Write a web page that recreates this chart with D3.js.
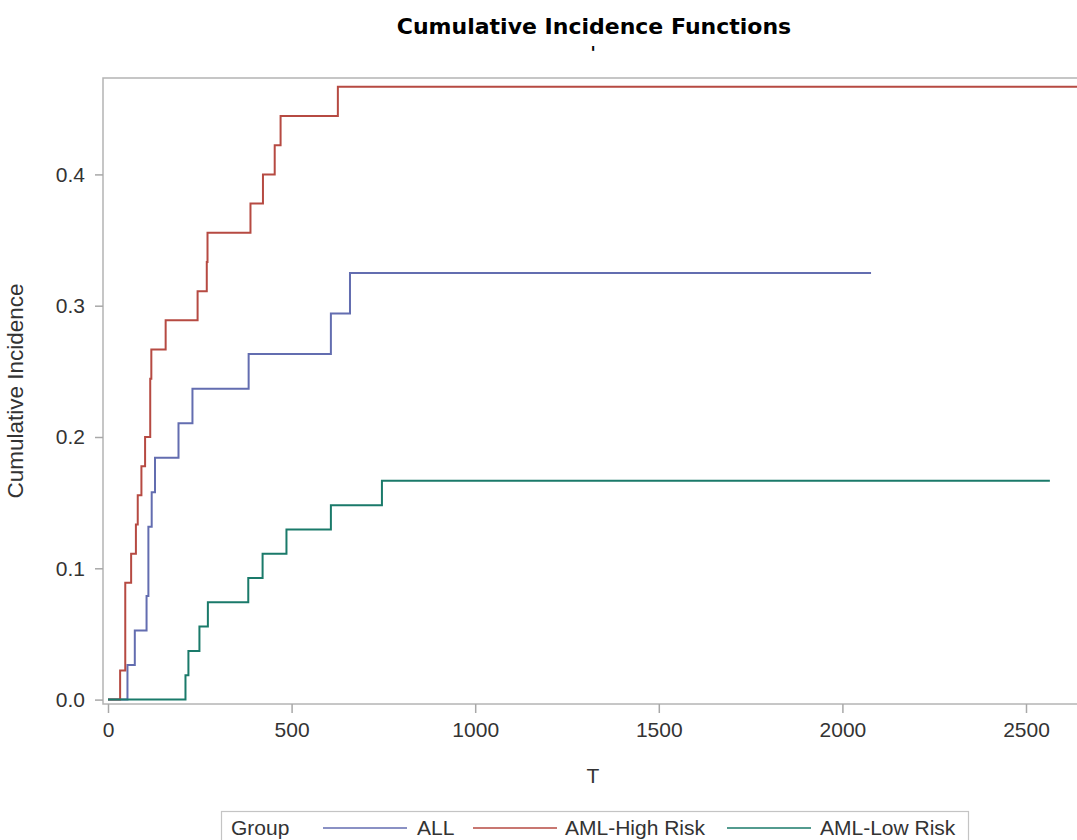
<!DOCTYPE html>
<html>
<head>
<meta charset="utf-8">
<script src="https://cdn.jsdelivr.net/npm/d3@7"></script>
<style>
  html, body { margin: 0; padding: 0; background: #fff; }
  svg { display: block; }
</style>
</head>
<body>
<svg id="chart" width="1077" height="840"></svg>
<script>
// ---- Data ----
const groups = ["ALL", "AML-High Risk", "AML-Low Risk"];

const allTimes = [0, 53, 73, 105, 110, 119, 128, 192, 230, 383, 607, 659, 2078];
const allCIF   = [0, 0.0263, 0.0526, 0.0789, 0.1316, 0.1579, 0.1842, 0.2105, 0.2368, 0.2632, 0.2940, 0.3250, 0.3250];

const highTimes = [0, 33, 47, 63, 76, 81, 91, 101, 115, 118, 157, 244, 269, 271, 388, 422, 454, 470, 626, 2700];
const highCIF   = [0, 0.0222, 0.0889, 0.1111, 0.1333, 0.1556, 0.1778, 0.2000, 0.2444, 0.2667, 0.2889, 0.3111, 0.3333, 0.3556, 0.3778, 0.4000, 0.4222, 0.4444, 0.4667, 0.4667];

const lowTimes = [0, 211, 219, 249, 272, 382, 421, 486, 607, 746, 2565];
const lowCIF   = [0, 0.0185, 0.0370, 0.0556, 0.0741, 0.0926, 0.1111, 0.1296, 0.1481, 0.1667, 0.1667];

const xTicks = [0, 500, 1000, 1500, 2000, 2500];
const yTicks = [0, 0.1, 0.2, 0.3, 0.4];

const colors = ["#636db0", "#b64a42", "#1a7a6a"];

// ---- Layout ----
const svg = d3.select("#chart");
const frame = { left: 103, top: 78, right: 1090, bottom: 704 };

const x = d3.scaleLinear().domain([0, 2500]).range([108, 1026]);
const y = d3.scaleLinear().domain([0, 0.4]).range([699.6, 174.4]);

const textFont = "'Liberation Sans', Arial, sans-serif";

// Title
svg.append("text")
  .attr("x", 594).attr("y", 34)
  .attr("text-anchor", "middle")
  .style("font-family", "'DejaVu Sans', Verdana, sans-serif")
  .style("font-weight", "bold")
  .style("font-size", "22px")
  .attr("fill", "#000")
  .text("Cumulative Incidence Functions");
svg.append("text")
  .attr("x", 593).attr("y", 59)
  .attr("text-anchor", "middle")
  .style("font-family", "'DejaVu Sans', Verdana, sans-serif")
  .style("font-weight", "bold")
  .style("font-size", "17px")
  .attr("fill", "#000")
  .text("'");

// Clip
svg.append("defs").append("clipPath").attr("id", "plotclip")
  .append("rect")
  .attr("x", frame.left).attr("y", frame.top)
  .attr("width", frame.right - frame.left).attr("height", frame.bottom - frame.top);

// Frame
svg.append("rect")
  .attr("x", frame.left).attr("y", frame.top)
  .attr("width", frame.right - frame.left).attr("height", frame.bottom - frame.top)
  .attr("fill", "none").attr("stroke", "#b4b4b4").attr("stroke-width", 1.5);

// Axes
const yAxis = d3.axisLeft(y).tickValues(yTicks).tickFormat(d3.format(".1f")).tickSize(8).tickPadding(10);
const gy = svg.append("g").attr("transform", `translate(${frame.left},0)`).call(yAxis);
gy.select(".domain").remove();

const xAxis = d3.axisBottom(x).tickValues(xTicks).tickFormat(d3.format("d")).tickSize(9).tickPadding(9);
const gx = svg.append("g").attr("transform", `translate(0,${frame.bottom})`).call(xAxis);
gx.select(".domain").remove();

[gx, gy].forEach(g => {
  g.selectAll(".tick line").attr("stroke", "#a8a8a8").attr("stroke-width", 1.5);
  g.selectAll(".tick text")
    .style("font-family", textFont)
    .style("font-size", "21px")
    .attr("fill", "#333");
});

// Axis labels
svg.append("text")
  .attr("x", 593).attr("y", 783)
  .attr("text-anchor", "middle")
  .style("font-family", textFont).style("font-size", "21px")
  .attr("fill", "#333")
  .text("T");
svg.append("text")
  .attr("transform", "translate(23,391) rotate(-90)")
  .attr("text-anchor", "middle")
  .style("font-family", textFont).style("font-size", "22.5px")
  .attr("fill", "#333")
  .text("Cumulative Incidence");

// Curves
const series = [
  { name: groups[0], t: allTimes, v: allCIF, color: colors[0] },
  { name: groups[1], t: highTimes, v: highCIF, color: colors[1] },
  { name: groups[2], t: lowTimes, v: lowCIF, color: colors[2] }
];
const line = d3.line().curve(d3.curveStepAfter).x(d => x(d[0])).y(d => y(d[1]));
const plot = svg.append("g").attr("clip-path", "url(#plotclip)");
series.forEach(s => {
  plot.append("path")
    .datum(s.t.map((t, i) => [t, s.v[i]]))
    .attr("d", line)
    .attr("fill", "none")
    .attr("stroke", s.color)
    .attr("stroke-width", 2);
});

// Legend
const leg = svg.append("g");
leg.append("rect")
  .attr("x", 221.5).attr("y", 811.5).attr("width", 747).attr("height", 40)
  .attr("fill", "#fff").attr("stroke", "#c4c4c4").attr("stroke-width", 1.2);
leg.append("text").attr("x", 231).attr("y", 835)
  .style("font-family", textFont).style("font-size", "21px").attr("fill", "#333")
  .text("Group");
const legItems = [
  { x1: 323, x2: 407, tx: 417 },
  { x1: 473, x2: 557, tx: 565 },
  { x1: 727, x2: 811, tx: 820 }
];
series.forEach((s, i) => {
  leg.append("line")
    .attr("x1", legItems[i].x1).attr("x2", legItems[i].x2)
    .attr("y1", 828).attr("y2", 828)
    .attr("stroke", s.color).attr("stroke-width", 1.5);
  leg.append("text").attr("x", legItems[i].tx).attr("y", 835)
    .style("font-family", textFont).style("font-size", "21px").attr("fill", "#333")
    .text(s.name);
});
</script>
</body>
</html>
